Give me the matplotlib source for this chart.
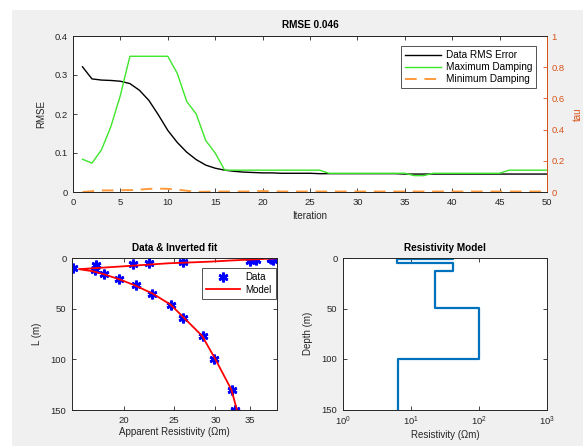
import matplotlib
matplotlib.use("Agg")
import matplotlib.pyplot as plt
import numpy as np
from matplotlib.patches import Rectangle
from matplotlib.ticker import FixedLocator, FixedFormatter, NullLocator

plt.rcParams['font.family'] = ['Liberation Sans', 'DejaVu Sans']
plt.rcParams['font.size'] = 6.8

# --- convergence history (top panel) ---
iteration = np.arange(1, 51)
rms_error = [0.321, 0.290, 0.287, 0.286, 0.284, 0.278, 0.261, 0.235, 0.198, 0.158,
             0.127, 0.102, 0.083, 0.069, 0.061, 0.056, 0.053, 0.051, 0.050, 0.049,
             0.049, 0.048, 0.048, 0.048, 0.048, 0.047, 0.047, 0.047, 0.047, 0.047,
             0.047, 0.047, 0.047, 0.047, 0.046, 0.046, 0.046, 0.046, 0.046, 0.046,
             0.046, 0.046, 0.046, 0.046, 0.046, 0.046, 0.046, 0.046, 0.046, 0.046]
max_damping = [0.21, 0.185, 0.27, 0.42, 0.62, 0.87, 0.87, 0.87, 0.87, 0.87,
               0.76, 0.58, 0.50, 0.33, 0.25, 0.14, 0.14, 0.14, 0.14, 0.14,
               0.14, 0.14, 0.14, 0.14, 0.14, 0.14, 0.12, 0.12, 0.12, 0.12,
               0.12, 0.12, 0.12, 0.12, 0.12, 0.105, 0.105, 0.12, 0.12, 0.12,
               0.12, 0.12, 0.12, 0.12, 0.12, 0.14, 0.14, 0.14, 0.14, 0.14]
min_damping = [0.0, 0.005, 0.010, 0.010, 0.012, 0.012, 0.015, 0.020, 0.022, 0.020,
               0.015, 0.008, 0.0, 0.002, 0.002, 0.003, 0.003, 0.003, 0.004, 0.006,
               0.004, 0.003, 0.003, 0.003, 0.003, 0.003, 0.003, 0.003, 0.003, 0.003,
               0.003, 0.003, 0.003, 0.003, 0.003, 0.003, 0.003, 0.003, 0.003, 0.003,
               0.003, 0.003, 0.003, 0.003, 0.003, 0.003, 0.003, 0.003, 0.003, 0.003]

# --- sounding data and fit (bottom left) ---
data_L = [0.7, 2.3, 2.3, 2.6, 3.6, 4.9, 5.9, 6.9, 9.6, 11.8,
          16, 21, 27, 35.5, 46, 59, 77, 100, 130, 150]
data_rho = [38.3, 38.7, 35.9, 34.9, 26.0, 22.4, 20.8, 17.7, 16.0, 17.6,
            18.3, 19.6, 21.1, 22.7, 24.6, 26.0, 28.4, 29.8, 32.3, 32.7]
model_L = [0.3, 2.5, 3.6, 5.2, 7.8, 9.7, 11.0, 13, 16, 21, 27, 35, 46, 59, 77, 100, 130, 150]
model_rho = [39.4, 32.0, 29.3, 24.4, 20.5, 18.0, 16.4, 17.4, 18.3, 19.6, 21.0,
             22.7, 24.6, 26.1, 28.3, 30.0, 32.2, 33.0]

# --- layered model (bottom right) ---
layer_rho = [41.5, 6.3, 41.5, 22.5, 101, 6.5]
layer_top = [0, 1.3, 5.2, 12.5, 49.6, 99.7]
max_depth = 150

gray = '#262626'
orange = '#D95319'


def style_axes(ax):
    ax.set_facecolor('white')
    for s in ax.spines.values():
        s.set_color(gray)
        s.set_linewidth(0.7)
    ax.tick_params(direction='in', length=3, width=0.6, colors=gray,
                   labelsize=6.8, pad=4, top=True, right=True)


def box_legend(leg):
    leg.get_frame().set_edgecolor(gray)
    leg.get_frame().set_linewidth(0.7)


fig = plt.figure(figsize=(5.87, 4.46), dpi=100)
fig.patch.set_facecolor('white')
fig.patches.append(Rectangle((12 / 587, 0), 571 / 587, 436 / 446,
                             transform=fig.transFigure, facecolor='#F0F0F0',
                             edgecolor='none', zorder=-10))

# top panel
ax1 = fig.add_axes([73 / 587, 1 - 192 / 446, 474 / 587, 156 / 446])
style_axes(ax1)
ax1.tick_params(right=False)
l1, = ax1.plot(iteration, rms_error, color='black', lw=1.0, label='Data RMS Error')
ax1.set_xlim(0, 50)
ax1.set_ylim(0, 0.4)
ax1.set_xticks(np.arange(0, 51, 5))
ax1.set_yticks([0, 0.1, 0.2, 0.3, 0.4])
ax1.set_yticklabels(['0', '0.1', '0.2', '0.3', '0.4'])
ax1.set_xlabel('Iteration', fontsize=7, color=gray, labelpad=3)
ax1.set_ylabel('RMSE', fontsize=7, color=gray, labelpad=6)
ax1.set_title('RMSE 0.046', fontsize=7.2, fontweight='bold', color='black', pad=6)

ax2 = ax1.twinx()
ax2.set_ylim(0, 1)
ax2.set_yticks([0, 0.2, 0.4, 0.6, 0.8, 1])
ax2.set_yticklabels(['0', '0.2', '0.4', '0.6', '0.8', '1'])
for s in ax2.spines.values():
    s.set_linewidth(0.7)
    s.set_color(gray)
ax2.spines['right'].set_color(orange)
ax2.tick_params(axis='y', direction='in', length=3, width=0.6, colors=orange,
                labelsize=6.8, pad=3)
l2, = ax2.plot(iteration, max_damping, color='#3DE62A', lw=1.0, label='Maximum Damping')
l3, = ax2.plot(iteration, min_damping, color='#FF9A3C', lw=1.4, dashes=(6, 4),
               label='Minimum Damping')
ax2.set_ylabel('tau', fontsize=7, color=orange, labelpad=6)
leg = ax2.legend(handles=[l1, l2, l3], loc='upper right',
                 bbox_to_anchor=((536 - 73) / 474, 1 - 10 / 156),
                 fontsize=7.2, frameon=True, fancybox=False, handlelength=3.6,
                 borderpad=0.4, labelspacing=0.2, handletextpad=0.5,
                 borderaxespad=0)
box_legend(leg)

# bottom left
ax3 = fig.add_axes([72 / 587, 1 - 410 / 446, 205 / 587, 152 / 446])
style_axes(ax3)
ax3.set_xscale('log')
ax3.plot(data_rho, data_L, linestyle='none', marker=(6, 2, 0), markersize=7,
         mew=1.9, color='blue', label='Data')
ax3.plot(model_rho, model_L, color='red', lw=1.3, label='Model')
ax3.set_xlim(15.9, 39.4)
ax3.set_ylim(150, 0)
ax3.xaxis.set_major_locator(FixedLocator([20, 25, 30, 35]))
ax3.xaxis.set_major_formatter(FixedFormatter(['20', '25', '30', '35']))
ax3.xaxis.set_minor_locator(NullLocator())
ax3.set_yticks([0, 50, 100, 150])
ax3.set_xlabel('Apparent Resistivity (\u03a9m)', fontsize=7, color=gray, labelpad=2)
ax3.set_ylabel('L (m)', fontsize=7, color=gray, labelpad=6)
ax3.set_title('Data & Inverted fit', fontsize=7.2, fontweight='bold', color='black', pad=5)
leg3 = ax3.legend(loc='upper right', bbox_to_anchor=(0.995, 1 - 10 / 152),
                  fontsize=7, frameon=True, fancybox=False, handlelength=3.4,
                  borderpad=0.45, labelspacing=0.25, handletextpad=0.6,
                  borderaxespad=0, numpoints=1)
box_legend(leg3)

# bottom right
ax4 = fig.add_axes([343 / 587, 1 - 409.5 / 446, 204 / 587, 151.5 / 446])
style_axes(ax4)
ax4.set_xscale('log')
step_rho = np.repeat(layer_rho, 2)
step_depth = np.repeat(layer_top[1:] + [max_depth], 2)
step_depth = np.concatenate([[layer_top[0]], step_depth[:-1]])
ax4.plot(step_rho, step_depth, color='#0072BD', lw=1.6)
ax4.set_xlim(1, 1000)
ax4.set_ylim(150, 0)
ax4.xaxis.set_major_locator(FixedLocator([1, 10, 100, 1000]))
ax4.xaxis.set_minor_locator(NullLocator())
ax4.set_yticks([0, 50, 100, 150])
ax4.set_xlabel('Resistivity (\u03a9m)', fontsize=7, color=gray, labelpad=1)
ax4.set_ylabel('Depth (m)', fontsize=7, color=gray, labelpad=6)
ax4.set_title('Resistivity Model', fontsize=7.2, fontweight='bold', color='black', pad=5)

fig.savefig('out.png', dpi=100)
